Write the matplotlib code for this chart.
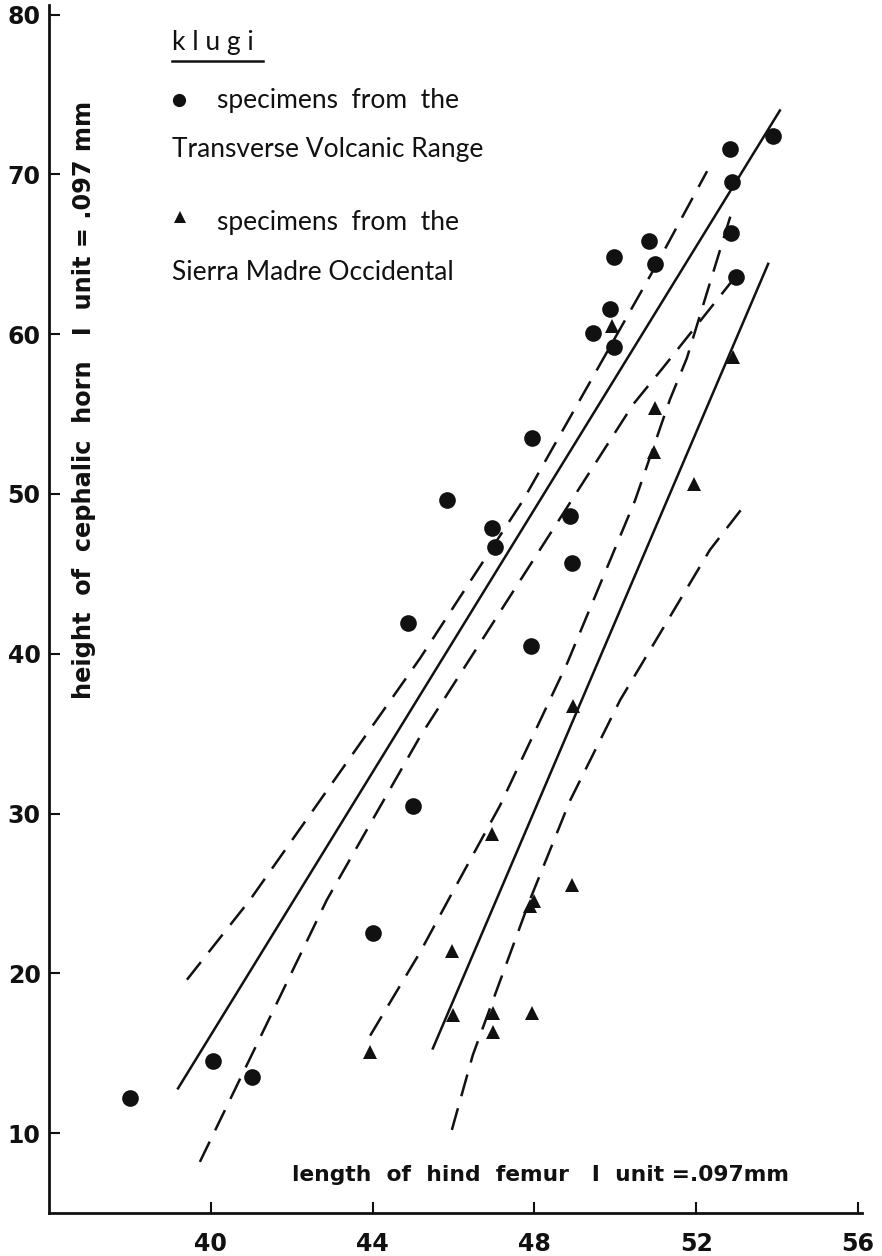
import matplotlib
matplotlib.use("Agg")
import matplotlib.pyplot as plt
from matplotlib.lines import Line2D

# Data (femur length vs horn height, 1 unit = .097 mm)
tvr_femur = [38.0, 40.05, 41.02, 44.01, 45.0, 44.88, 45.84, 46.95, 47.03, 47.94,
             47.92, 48.88, 48.93, 49.45, 49.87, 49.97, 49.97, 50.83, 50.98,
             52.84, 52.89, 52.86, 52.98, 53.9]
tvr_horn = [12.2, 14.5, 13.5, 22.5, 30.5, 41.9, 49.6, 47.9, 46.7, 53.5,
            40.5, 48.6, 45.7, 60.1, 61.6, 59.2, 64.8, 65.8, 64.4,
            71.6, 69.5, 66.3, 63.6, 72.4]

smo_femur = [43.94, 45.96, 45.99, 46.95, 46.98, 46.98, 47.9, 48.0, 47.94,
             48.93, 48.95, 49.92, 50.96, 50.98, 51.95, 52.91]
smo_horn = [15.1, 21.4, 17.4, 28.7, 17.5, 16.3, 24.2, 24.5, 17.5,
            25.5, 36.7, 60.5, 52.6, 55.4, 50.6, 58.6]

# regression lines and confidence bands (hand drawn in the original)
tvr_fit_x = [39.19, 54.07]
tvr_fit_y = [12.8, 74.0]
tvr_upper_x = [39.41, 40.97, 45.17, 47.72, 51.03, 52.27]
tvr_upper_y = [19.6, 24.6, 39.7, 49.6, 64.4, 70.2]
tvr_lower_x = [39.73, 42.87, 45.17, 50.44, 51.18, 52.91]
tvr_lower_y = [8.2, 24.6, 34.8, 55.6, 57.9, 63.4]

smo_fit_x = [45.49, 53.78]
smo_fit_y = [15.3, 64.4]
smo_upper_x = [43.94, 45.17, 45.96, 47.15, 48.81, 50.49, 51.35, 51.77, 52.91]
smo_upper_y = [16.1, 21.3, 25.0, 30.5, 39.4, 49.6, 55.9, 58.5, 67.9]
smo_lower_x = [45.96, 46.48, 47.89, 48.88, 50.12, 52.34, 53.26]
smo_lower_y = [10.2, 14.9, 24.6, 30.8, 37.1, 46.5, 49.5]

x_ticks = [40, 44, 48, 52, 56]
y_ticks = [10, 20, 30, 40, 50, 60, 70, 80]

W, H = 882, 1256
fig = plt.figure(figsize=(W / 100, H / 100), dpi=100)
fig.patch.set_facecolor("white")
ax = fig.add_axes([49 / W, 43 / H, (862 - 49) / W, (1213 - 5) / H])
ax.set_xlim(36, 56.1)
ax.set_ylim(5, 80.6)

ink = "#111111"
lw = 1.8
dash = (9, 5)

ax.plot(tvr_fit_x, tvr_fit_y, color=ink, lw=lw)
ax.plot(tvr_upper_x, tvr_upper_y, color=ink, lw=lw, dashes=dash)
ax.plot(tvr_lower_x, tvr_lower_y, color=ink, lw=lw, dashes=dash)
ax.plot(smo_fit_x, smo_fit_y, color=ink, lw=lw)
ax.plot(smo_upper_x, smo_upper_y, color=ink, lw=lw, dashes=dash)
ax.plot(smo_lower_x, smo_lower_y, color=ink, lw=lw, dashes=dash)

ax.plot(tvr_femur, tvr_horn, "o", color=ink, ms=12, mew=0, ls="none")
ax.plot(smo_femur, smo_horn, "^", color=ink, ms=10.5, mew=0, ls="none")

for side in ("top", "right"):
    ax.spines[side].set_visible(False)
for side in ("left", "bottom"):
    ax.spines[side].set_linewidth(2)
    ax.spines[side].set_color(ink)

ax.set_xticks(x_ticks)
ax.set_yticks(y_ticks)
ax.tick_params(direction="in", length=8, width=1.5, colors=ink)
ax.tick_params(axis="x", pad=14)
ax.tick_params(axis="y", pad=6)
for lab in ax.get_xticklabels():
    lab.set_fontweight("bold")
    lab.set_fontsize(17)
for lab in ax.get_yticklabels():
    lab.set_fontweight("bold")
    lab.set_fontsize(17)

# axis labels drawn inside the plot area as in the original
fig.text(541 / W, 1 - 1175 / H, "length  of  hind  femur   I  unit =.097mm",
         ha="center", va="center", fontsize=15.7, fontweight="bold", color=ink)
fig.text(84 / W, 1 - 400 / H, "height  of  cephalic  horn   I  unit = .097 mm",
         ha="center", va="center", rotation=90, fontsize=17.3,
         fontweight="bold", color=ink)

# legend block
lf = dict(fontsize=19, family="Lato", color=ink, va="baseline", ha="left")
fig.text(172 / W, 1 - 50 / H, "k l u g i", **lf)
fig.add_artist(Line2D([172 / W, 263 / W], [1 - 61 / H, 1 - 61 / H], color=ink, lw=1.8))
fig.add_artist(Line2D([179 / W], [1 - 100 / H], marker="o", ms=9.5, color=ink, mew=0))
fig.text(217 / W, 1 - 108 / H, "specimens  from  the", **lf)
fig.text(172 / W, 1 - 157 / H, "Transverse Volcanic Range", **lf)
fig.add_artist(Line2D([180 / W], [1 - 217 / H], marker="^", ms=8.5, color=ink, mew=0))
fig.text(217 / W, 1 - 230 / H, "specimens  from  the", **lf)
fig.text(172 / W, 1 - 280 / H, "Sierra Madre Occidental", **lf)

fig.savefig("out.png", dpi=100, facecolor="white")
